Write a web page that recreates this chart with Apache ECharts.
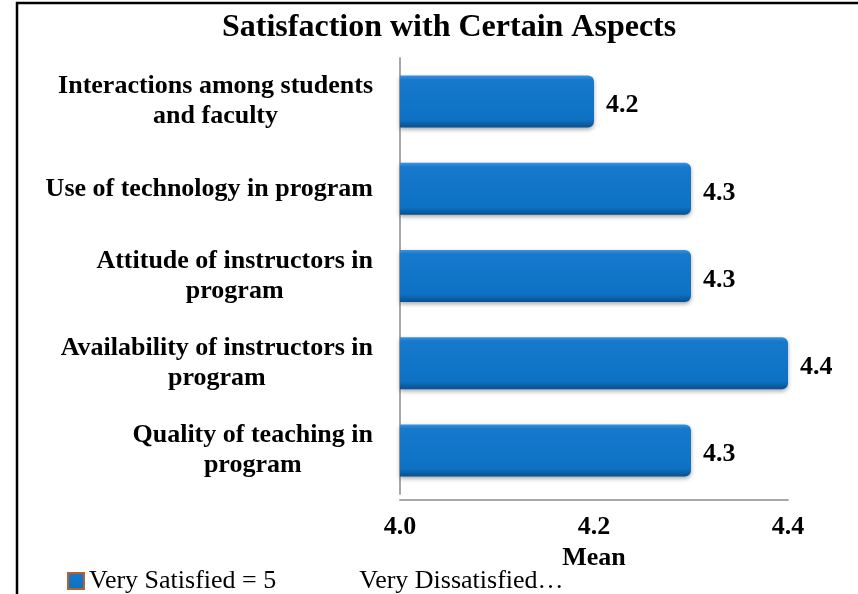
<!DOCTYPE html>
<html>
<head>
<meta charset="utf-8">
<script src="https://cdn.jsdelivr.net/npm/echarts@6/dist/echarts.min.js"></script>
<style>
  html, body { margin: 0; padding: 0; background: #fff; }
  #satChart { width: 858px; height: 594px; }
</style>
</head>
<body>
<div id="satChart"></div>
<script>
// categories top to bottom
var aspects = [
  "Interactions among students\nand faculty",
  "Use of technology in program",
  "Attitude of instructors in\nprogram",
  "Availability of instructors in\nprogram",
  "Quality of teaching in\nprogram"
];
var meanValues = [4.2, 4.3, 4.3, 4.4, 4.3];
var meanTicks = [4.0, 4.2, 4.4];
var legendNames = ["Very Satisfied = 5", "Very Dissatisfied…"];

var serif = "'Liberation Serif', 'Times New Roman', serif";

var myChart = echarts.init(document.getElementById("satChart"));

var option = {
  backgroundColor: "#fff",
  title: {
    text: "Satisfaction with Certain Aspects",
    left: 217,
    top: 7,
    textStyle: {
      fontFamily: serif,
      fontSize: 32,
      fontWeight: "bold",
      color: "#000",
    },
  },
  legend: {
    left: 62,
    top: 563,
    icon: "rect",
    itemWidth: 16,
    itemHeight: 16,
    data: [legendNames[0]],
    itemStyle: {
      borderColor: "#b8602a",
      borderWidth: 2,
    },
    formatter: function (name) {
      return "{a|" + name + "}{b|" + legendNames[1] + "}";
    },
    textStyle: {
      fontFamily: serif,
      fontSize: 26,
      color: "#000",
      rich: {
        a: { fontFamily: serif, fontSize: 26, color: "#000" },
        b: { fontFamily: serif, fontSize: 26, color: "#000", padding: [0, 0, 0, 83] },
      },
    },
  },
  grid: {
    left: 400,
    right: 70,
    top: 58,
    bottom: 100,
  },
  xAxis: {
    type: "value",
    min: meanTicks[0],
    max: meanTicks[meanTicks.length - 1],
    interval: 0.2,
    offset: 6,
    name: "Mean",
    nameLocation: "middle",
    nameGap: 38,
    nameTextStyle: {
      fontFamily: serif,
      fontSize: 26,
      fontWeight: "bold",
      color: "#000",
    },
    axisLine: {
      show: true,
      lineStyle: { color: "#a8a8a8", width: 2 },
    },
    axisTick: { show: false },
    splitLine: { show: false },
    axisLabel: {
      margin: 14,
      fontFamily: serif,
      fontSize: 26,
      fontWeight: "bold",
      color: "#000",
      formatter: function (v) {
        return v.toFixed(1);
      },
    },
  },
  yAxis: {
    type: "category",
    inverse: true,
    data: aspects,
    axisLine: {
      show: true,
      lineStyle: { color: "#a8a8a8", width: 2 },
    },
    axisTick: { show: false },
    axisLabel: {
      margin: 27,
      align: "right",
      lineHeight: 30,
      formatter: function (v) {
        return v
          .split("\n")
          .map(function (s) {
            return "{c|" + s + "}";
          })
          .join("\n");
      },
      rich: {
        c: {
          align: "center",
          fontFamily: serif,
          fontSize: 26,
          fontWeight: "bold",
          color: "#000",
          lineHeight: 30,
        },
      },
    },
  },
  series: [
    {
      name: legendNames[0],
      type: "bar",
      barWidth: 52,
      data: meanValues,
      itemStyle: {
        color: new echarts.graphic.LinearGradient(0, 0, 0, 1, [
          { offset: 0, color: "#3b93dc" },
          { offset: 0.08, color: "#1679cb" },
          { offset: 0.85, color: "#0e72c4" },
          { offset: 1, color: "#0a4f8c" },
        ]),
        borderRadius: [0, 6, 6, 0],
        shadowColor: "rgba(0,0,0,0.35)",
        shadowBlur: 4,
        shadowOffsetY: 2,
      },
      label: {
        show: true,
        position: "right",
        distance: 12,
        offset: [0, 4],
        fontFamily: serif,
        fontSize: 26,
        fontWeight: "bold",
        color: "#000",
        formatter: function (p) {
          return p.value.toFixed(1);
        },
      },
    },
  ],
  graphic: [
    {
      type: "polyline",
      shape: { points: [[17, 594], [17, 3], [858, 3]] },
      style: { stroke: "#000", lineWidth: 2.5, fill: null },
    },
  ],
  animation: false,
};
myChart.setOption(option);
</script>
</body>
</html>
